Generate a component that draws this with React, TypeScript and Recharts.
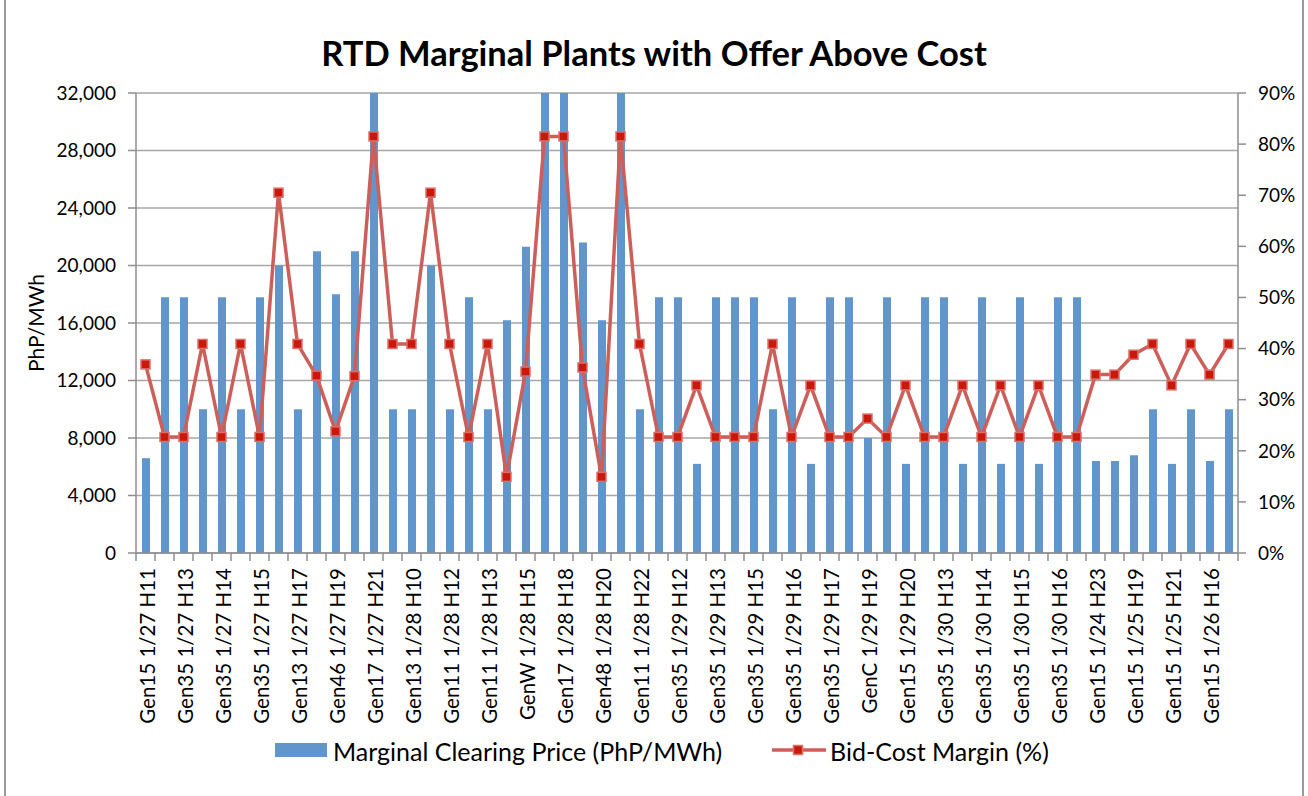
import React from 'react';
import { ComposedChart, Bar, Line, XAxis, YAxis, CartesianGrid, Label } from 'recharts';

// plant / day / hour of each interval (only every other one is labelled on the axis)
const categories = [
  'Gen15 1/27 H11', 'Gen35 1/27 H12', 'Gen35 1/27 H13', 'Gen11 1/27 H13', 'Gen35 1/27 H14', 'Gen11 1/27 H14',
  'Gen35 1/27 H15', 'Gen13 1/27 H16', 'Gen13 1/27 H17', 'Gen46 1/27 H18', 'Gen46 1/27 H19', 'Gen46 1/27 H20',
  'Gen17 1/27 H21', 'Gen11 1/27 H22', 'Gen13 1/28 H10', 'Gen13 1/28 H11', 'Gen11 1/28 H12', 'Gen35 1/28 H12',
  'Gen11 1/28 H13', 'Gen48 1/28 H14', 'GenW 1/28 H15', 'Gen17 1/28 H17', 'Gen17 1/28 H18', 'GenW 1/28 H19',
  'Gen48 1/28 H20', 'Gen17 1/28 H21', 'Gen11 1/28 H22', 'Gen35 1/29 H11', 'Gen35 1/29 H12', 'Gen15 1/29 H12',
  'Gen35 1/29 H13', 'Gen35 1/29 H14', 'Gen35 1/29 H15', 'Gen11 1/29 H15', 'Gen35 1/29 H16', 'Gen15 1/29 H16',
  'Gen35 1/29 H17', 'Gen35 1/29 H18', 'GenC 1/29 H19', 'Gen35 1/29 H19', 'Gen15 1/29 H20', 'Gen35 1/29 H21',
  'Gen35 1/30 H13', 'Gen15 1/30 H13', 'Gen35 1/30 H14', 'Gen15 1/30 H14', 'Gen35 1/30 H15', 'Gen15 1/30 H15',
  'Gen35 1/30 H16', 'Gen35 1/30 H17', 'Gen15 1/24 H23', 'Gen15 1/24 H24', 'Gen15 1/25 H19', 'Gen15 1/25 H20',
  'Gen15 1/25 H21', 'Gen15 1/25 H22', 'Gen15 1/26 H16', 'Gen15 1/26 H17',
];

// PhP/MWh, the 32,000 ones run off the top of the axis
const clearingPrice = [
  6600, 17800, 17800, 10000, 17800, 10000, 17800, 20000, 10000, 21000, 18000, 21000,
  32000, 10000, 10000, 20000, 10000, 17800, 10000, 16200, 21300, 32000, 32000, 21600,
  16200, 32000, 10000, 17800, 17800, 6200, 17800, 17800, 17800, 10000, 17800, 6200,
  17800, 17800, 8000, 17800, 6200, 17800, 17800, 6200, 17800, 6200, 17800, 6200,
  17800, 17800, 6400, 6400, 6800, 10000, 6200, 10000, 6400, 10000,
];

// %
const bidCostMargin = [
  36.9, 22.7, 22.7, 40.9, 22.7, 40.9, 22.7, 70.5, 40.9, 34.7, 23.8, 34.6,
  81.5, 40.9, 40.9, 70.5, 40.9, 22.7, 40.9, 14.9, 35.5, 81.5, 81.5, 36.3,
  14.9, 81.5, 40.9, 22.7, 22.7, 32.8, 22.7, 22.7, 22.7, 40.9, 22.7, 32.8,
  22.7, 22.7, 26.3, 22.7, 32.8, 22.7, 22.7, 32.8, 22.7, 32.8, 22.7, 32.8,
  22.7, 22.7, 34.9, 34.9, 38.8, 40.9, 32.8, 40.9, 34.9, 40.9,
];

const priceTicks = [0, 4000, 8000, 12000, 16000, 20000, 24000, 28000, 32000];
const marginTicks = [0, 10, 20, 30, 40, 50, 60, 70, 80, 90];

const W = 1308;
const H = 796;
const LEFT_W = 136;
const RIGHT_W = 70;
const TOP = 93;
const X_H = 243;
const BAND = (W - LEFT_W - RIGHT_W) / categories.length;

const FONT = 'Lato, "Open Sans", sans-serif';
const AXIS = '#8e8e8e';
const GRID = '#a6a6a6';
const BLUE = '#6096cb';
const RED_LINE = '#cd5f5a';
const RED_DOT = '#c8190c';

const data = categories.map((name, i) => ({
  name,
  price: clearingPrice[i],
  margin: bidCostMargin[i],
}));

function CategoryTick(props: any) {
  const { x, y, index, payload } = props;
  const edge = x - BAND / 2;
  const ty = y + 7;
  return (
    <g>
      <line x1={edge} y1={y - 8} x2={edge} y2={y} stroke={AXIS} strokeWidth={1.5} />
      {index === categories.length - 1 && (
        <line x1={x + BAND / 2} y1={y - 8} x2={x + BAND / 2} y2={y} stroke={AXIS} strokeWidth={1.5} />
      )}
      {index % 2 === 0 && (
        <text
          x={x}
          y={ty}
          dy="0.45em"
          transform={`rotate(-90 ${x} ${ty})`}
          textAnchor="end"
          fontSize={20.5}
          fontFamily={FONT}
          fill="#000"
        >
          {payload.value}
        </text>
      )}
    </g>
  );
}

function SquareDot(props: any) {
  const { cx, cy, index } = props;
  return (
    <rect
      key={`dot-${index}`}
      x={cx - 4.5}
      y={cy - 4.5}
      width={9}
      height={9}
      fill={RED_DOT}
      stroke="#dc6f68"
      strokeWidth={1.5}
    />
  );
}

export default function App() {
  return (
    <div style={{ position: 'absolute', left: 0, top: 0, width: W, height: H, background: '#fff', overflow: 'hidden', fontFamily: FONT }}>
      <div style={{ position: 'absolute', left: 4, top: -4, width: 1296, height: 820, border: '2px solid #9a9a9a' }} />

      <div style={{ position: 'absolute', left: 0, top: 33, width: W, textAlign: 'center', fontSize: 34.5, fontWeight: 700, color: '#000', lineHeight: '40px' }}>
        RTD Marginal Plants with Offer Above Cost
      </div>

      <ComposedChart width={W} height={H} data={data} margin={{ top: TOP, right: 0, bottom: 0, left: 0 }} style={{ position: 'absolute', left: 0, top: 0 }}>
        <CartesianGrid yAxisId="left" vertical={false} stroke={GRID} strokeWidth={1.5} />
        <XAxis
          dataKey="name"
          interval={0}
          height={X_H}
          tick={<CategoryTick />}
          tickLine={false}
          tickSize={8}
          tickMargin={0}
          axisLine={{ stroke: AXIS, strokeWidth: 1.5 }}
        />
        <YAxis
          yAxisId="left"
          width={LEFT_W}
          domain={[0, 32000]}
          ticks={priceTicks}
          interval={0}
          tickFormatter={(v: number) => v.toLocaleString('en-US')}
          tickSize={8}
          tickMargin={12}
          tick={{ fill: '#000', fontSize: 19, fontFamily: FONT }}
          tickLine={{ stroke: AXIS, strokeWidth: 1.5 }}
          axisLine={{ stroke: AXIS, strokeWidth: 1.5 }}
        >
          <Label value="PhP/MWh" angle={-90} position="center" dx={-31} style={{ fontSize: 21, fontFamily: FONT, fill: '#000' }} />
        </YAxis>
        <YAxis
          yAxisId="right"
          orientation="right"
          width={RIGHT_W}
          domain={[0, 90]}
          ticks={marginTicks}
          interval={0}
          tickFormatter={(v: number) => `${v}%`}
          tickSize={8}
          tickMargin={12}
          tick={{ fill: '#000', fontSize: 19, fontFamily: FONT }}
          tickLine={{ stroke: AXIS, strokeWidth: 1.5 }}
          axisLine={{ stroke: AXIS, strokeWidth: 1.5 }}
        />
        <Bar yAxisId="left" dataKey="price" fill={BLUE} barSize={8} isAnimationActive={false} />
        <Line
          yAxisId="right"
          dataKey="margin"
          type="linear"
          stroke={RED_LINE}
          strokeWidth={3.5}
          dot={SquareDot}
          activeDot={false}
          isAnimationActive={false}
        />
      </ComposedChart>

      <div style={{ position: 'absolute', left: 275, top: 743, width: 52, height: 14, background: BLUE }} />
      <div style={{ position: 'absolute', left: 333, top: 735, fontSize: 25, lineHeight: '32px', color: '#000', whiteSpace: 'nowrap' }}>
        Marginal Clearing Price (PhP/MWh)
      </div>
      <svg style={{ position: 'absolute', left: 770, top: 742 }} width={58} height={16}>
        <line x1={2} y1={8} x2={56} y2={8} stroke={RED_LINE} strokeWidth={3.5} />
        <rect x={23.5} y={3.5} width={9} height={9} fill={RED_DOT} stroke="#dc6f68" strokeWidth={1.5} />
      </svg>
      <div style={{ position: 'absolute', left: 830, top: 735, fontSize: 25, lineHeight: '32px', color: '#000', whiteSpace: 'nowrap' }}>
        Bid-Cost Margin (%)
      </div>
    </div>
  );
}
